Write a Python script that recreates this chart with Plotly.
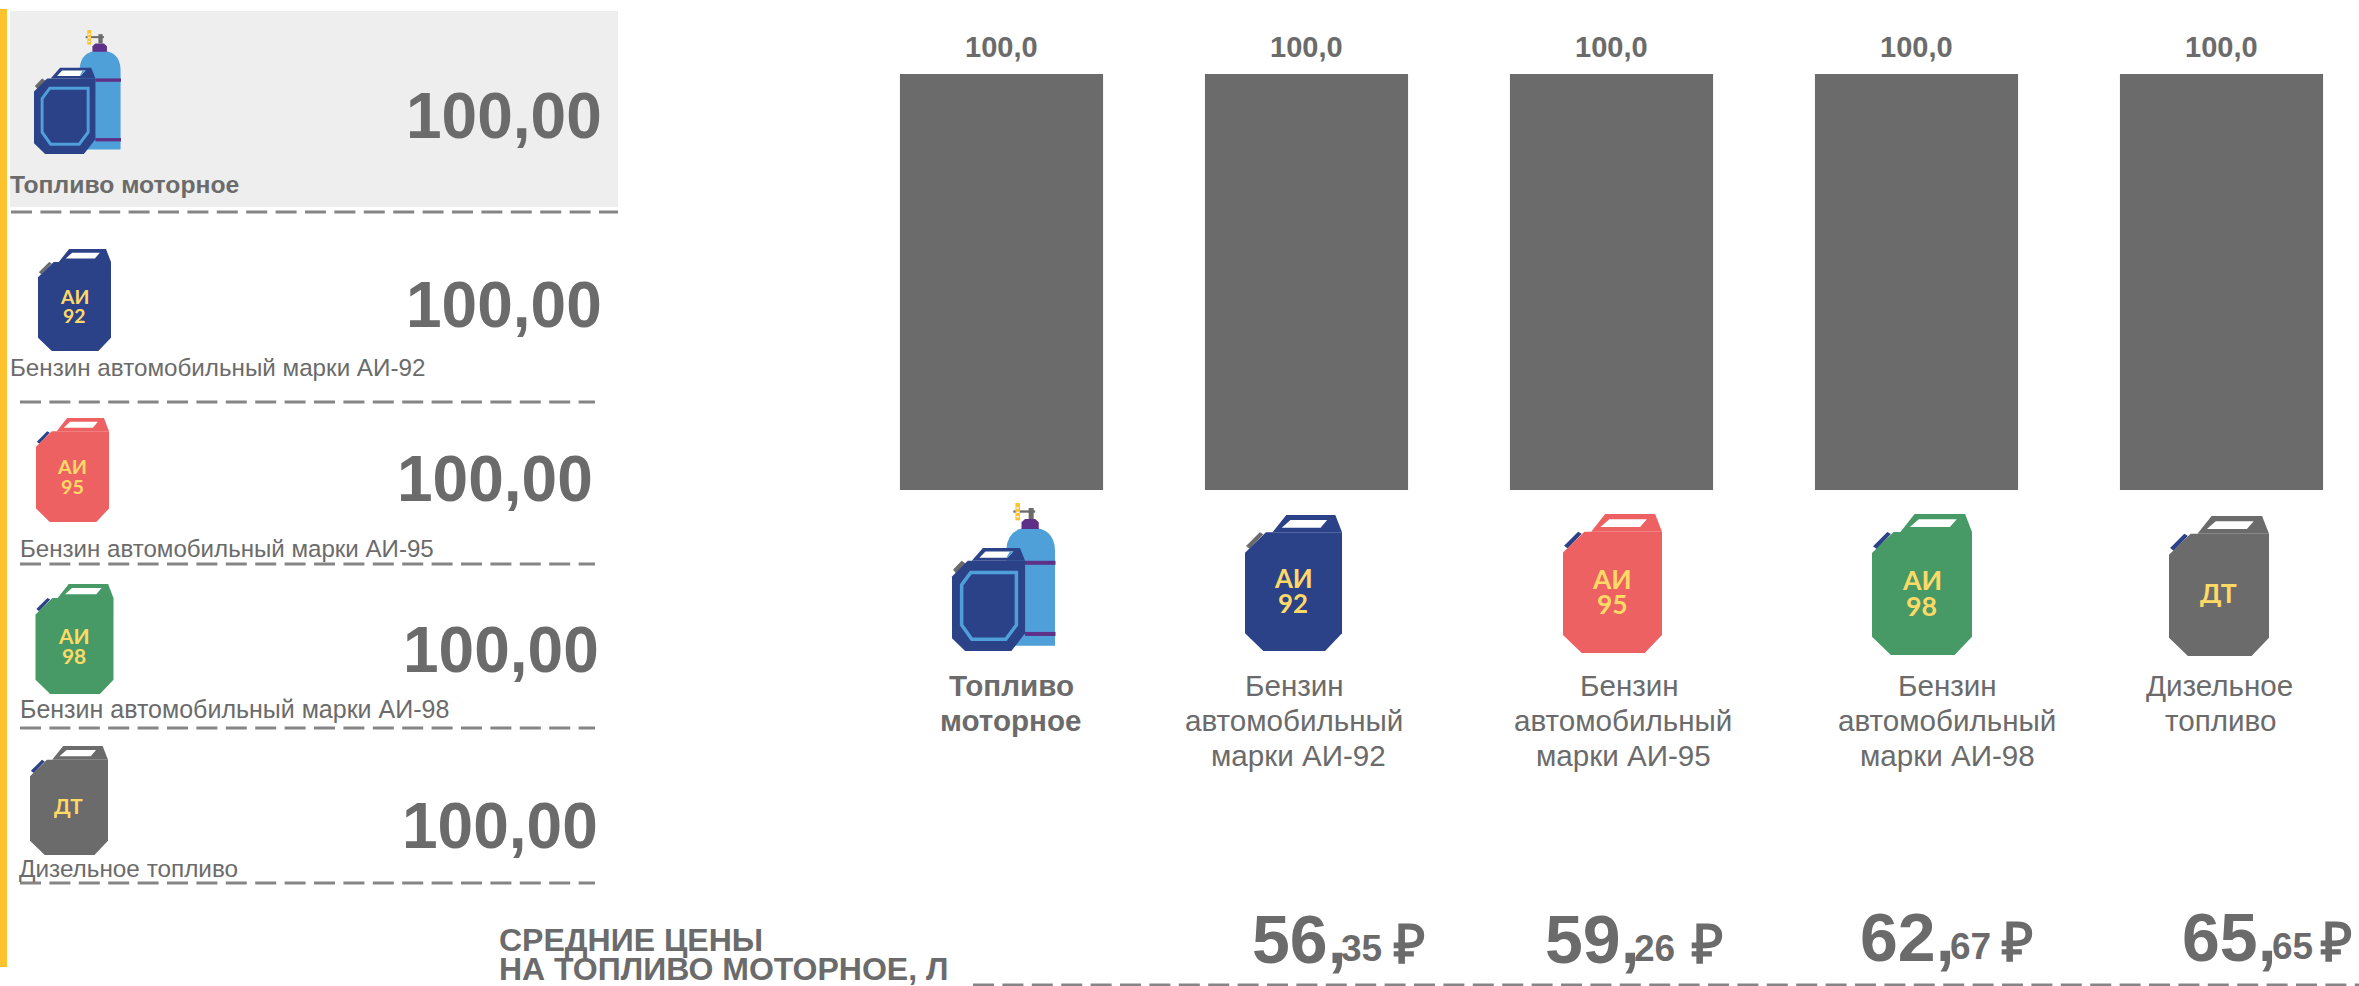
import plotly.graph_objects as go

W, H = 2359, 986
GRAY = "#6b6b6b"
NAVY = "#2b4289"
RED = "#ee6163"
GREEN = "#479a66"
YEL = "#ffd966"
FONT = "Liberation Sans, Arial, sans-serif"
ICON_FONT = "Lato, sans-serif"

categories = ["Топливо моторное", "Бензин автомобильный марки АИ-92", "Бензин автомобильный марки АИ-95",
              "Бензин автомобильный марки АИ-98", "Дизельное топливо"]
shares = [100.0, 100.0, 100.0, 100.0, 100.0]
share_labels = ["100,0", "100,0", "100,0", "100,0", "100,0"]
row_values = ["100,00", "100,00", "100,00", "100,00", "100,00"]
prices_whole = ["56,", "59,", "62,", "65,"]
prices_frac = ["35", "26", "67", "65"]

def px(x): return x / W
def py(y): return 1 - y / H

shapes, notes = [], []

def poly(points, fill, line=None, lw=0, layer="above"):
    d = "M " + " L ".join(f"{px(x):.5f},{py(y):.5f}" for x, y in points) + " Z"
    shapes.append(dict(type="path", path=d, xref="paper", yref="paper", fillcolor=fill, layer=layer,
                       line=dict(color=line or fill, width=lw)))

def rect(x0, y0, x1, y1, fill, layer="above"):
    shapes.append(dict(type="rect", xref="paper", yref="paper", x0=px(x0), x1=px(x1), y0=py(y0), y1=py(y1),
                       fillcolor=fill, line=dict(width=0), layer=layer))

def dashed(x0, x1, y):
    shapes.append(dict(type="line", xref="paper", yref="paper", x0=px(x0), x1=px(x1), y0=py(y), y1=py(y),
                       line=dict(color="#858585", width=3, dash="21px,8.4px")))

def text(x, y, s, size, bold=False, anchor="left", color=GRAY, family=FONT):
    if bold:
        s = f"<b>{s}</b>"
    notes.append(dict(x=px(x), y=py(y), xref="paper", yref="paper", text=s, showarrow=False, xanchor=anchor,
                      yanchor="middle", borderpad=0, font=dict(size=size, color=color, family=family)))

def canister(x0, y0, w, h, color, cap, lines):
    m = lambda pts: [(x0 + u * w, y0 + v * h) for u, v in pts]
    poly(m([(.284, .127), (.426, 0), (.931, 0), (1, .127)]), color)
    poly(m([(.379, .093), (.468, .037), (.847, .037), (.779, .093)]), "#ffffff")
    poly(m([(.011, .228), (.153, .127), (.189, .142), (.047, .248)]), cap)
    poly(m([(0, .277), (.216, .127), (1, .127), (1, .870), (.826, 1), (.189, 1), (0, .870)]), color)
    size = h * 0.19
    if len(lines) == 2:
        ys = [.465, .65]
    else:
        ys = [.55]
    for s, v in zip(lines, ys):
        text(x0 + .495 * w, y0 + v * h, s, size, True, "center", YEL, ICON_FONT)

def motor_icon(x0, y0, w, h):
    f = lambda zx, zy: (x0 + (zx - 141) / 204 * w, y0 + (zy - 100) / 443 * h)
    m = lambda pts: [f(a, b) for a, b in pts]
    a = f(248, 527); b = f(248, 240); c = f(250, 173); d = f(296, 173); e = f(342, 173); g = f(344, 240); i = f(344, 527)
    pt = lambda p: f"{px(p[0]):.5f},{py(p[1]):.5f}"
    shapes.append(dict(type="path", xref="paper", yref="paper", fillcolor="#4f9fd8", line=dict(width=0), layer="above",
                       path=f"M {pt(a)} L {pt(b)} Q {pt(c)} {pt(d)} Q {pt(e)} {pt(g)} L {pt(i)} Z"))
    poly(m([(278, 178), (278, 158), (285, 148), (305, 148), (312, 158), (312, 178)]), "#5e3087")
    poly(m([(285, 273), (345, 273), (345, 285), (285, 285)]), "#5e3087")
    poly(m([(285, 486), (345, 486), (345, 498), (285, 498)]), "#5e3087")
    poly(m([(262, 122), (305, 122), (305, 129), (262, 129)]), GRAY)
    poly(m([(292, 115), (302, 115), (302, 148), (292, 148)]), GRAY)
    poly(m([(266, 100), (275, 100), (275, 152), (266, 152)]), "#fdc22e")
    for zy in (113, 126, 139):
        poly(m([(268, zy), (273, zy), (273, zy + 4), (268, zy + 4)]), "#ffffff")
    poly(m([(180, 273), (202, 235), (275, 235), (285, 273)]), NAVY)
    poly(m([(195, 264), (207, 245), (262, 245), (250, 264)]), "#ffffff")
    poly(m([(248, 264), (255, 245), (262, 245), (250, 264)]), "#4f9fd8")
    poly(m([(143, 300), (160, 273), (168, 281), (150, 312)]), GRAY)
    poly(m([(141, 320), (172, 273), (285, 273), (285, 490), (258, 543), (167, 543), (141, 505)]), NAVY)
    poly(m([(160, 345), (178, 308), (268, 308), (268, 465), (247, 508), (180, 508), (160, 465)]), NAVY, "#4f9fd8", 3.5 * w / 103.5)

# ---------- background pieces
rect(0, 9, 7, 967, "#fdc22e", "below")
rect(10, 11, 618, 207, "#eeeeee", "below")
dashed(11, 618, 212)
for y in (402, 564, 728, 883):
    dashed(20, 595, y)
dashed(973, W, 985)

# ---------- left list
row_num = [(603, 116), (603, 305), (594, 479), (600, 650), (599, 826)]
row_lab = [(9, 185), (9, 367), (19, 548), (19, 709), (18, 868)]
row_lab_size = [24.7, 24.2, 24.1, 25, 24.3]
for i in range(5):
    text(row_num[i][0], row_num[i][1], row_values[i], 64, True, "right")
    text(row_lab[i][0], row_lab[i][1], categories[i], row_lab_size[i], i == 0)

motor_icon(34, 30, 87, 124)
canister(38, 249, 73, 102, NAVY, GRAY, ["АИ", "92"])
canister(36, 418, 73, 104, RED, NAVY, ["АИ", "95"])
canister(35.5, 584, 78, 110, GREEN, NAVY, ["АИ", "98"])
canister(30, 746, 78, 109, GRAY, NAVY, ["ДТ"])

# ---------- column icons + names
motor_icon(952, 503, 103.5, 148)
canister(1245, 515, 97, 136, NAVY, GRAY, ["АИ", "92"])
canister(1563, 514, 99, 139, RED, NAVY, ["АИ", "95"])
canister(1872, 514, 100, 141, GREEN, NAVY, ["АИ", "98"])
canister(2169, 516, 100, 140, GRAY, NAVY, ["ДТ"])

col_names = [
    ([1011, 1011], ["Топливо", "моторное"], True),
    ([1294, 1294, 1298], ["Бензин", "автомобильный", "марки АИ-92"], False),
    ([1629, 1623, 1623], ["Бензин", "автомобильный", "марки АИ-95"], False),
    ([1947, 1947, 1947], ["Бензин", "автомобильный", "марки АИ-98"], False),
    ([2219, 2220], ["Дизельное", "топливо"], False),
]
for xs, lines, b in col_names:
    for j, s in enumerate(lines):
        text(xs[j], 685 + 35 * j, s, 29.6, b, "center")

# ---------- prices
text(498, 940, "СРЕДНИЕ ЦЕНЫ", 32, True)
text(498, 969, "НА ТОПЛИВО МОТОРНОЕ, Л", 32, True)
whole_x = [1251, 1544, 1859, 2181]
frac_x = [1340, 1633, 1949, 2271]
rub_x = [1392, 1690, 2000, 2319]
ys = [939, 939, 937, 937]
for i in range(4):
    text(whole_x[i], ys[i], prices_whole[i], 68, True)
    text(frac_x[i], ys[i] + 9, prices_frac[i], 37, True)
    text(rub_x[i], ys[i] + 5, "₽", 54, True)

# ---------- bar value labels, tied to the bars through the axes
for c, v, s in zip(categories, shares, share_labels):
    notes.append(dict(x=c, y=v, xref="x", yref="y", text=f"<b>{s}</b>", showarrow=False, xanchor="center",
                      yanchor="middle", yshift=27, font=dict(size=29, color=GRAY, family=FONT)))

fig = go.Figure(go.Bar(
    x=categories, y=shares, width=0.666, marker=dict(color=GRAY, line=dict(width=0)),
    cliponaxis=False, hoverinfo="skip",
))
fig.update_layout(
    width=W, height=H, margin=dict(l=0, r=0, t=0, b=0, pad=0), showlegend=False,
    paper_bgcolor="#ffffff", plot_bgcolor="rgba(0,0,0,0)", shapes=shapes, annotations=notes,
    xaxis=dict(domain=[849 / W, 1], range=[-0.5, 4.4508], visible=False, type="category", categoryarray=categories),
    yaxis=dict(domain=[(H - 490) / H, (H - 74) / H], range=[0, 100], visible=False),
)
fig.write_html("out.html", config=dict(displayModeBar=False),
               post_script="document.body.style.margin='0';document.body.style.overflow='hidden';")
